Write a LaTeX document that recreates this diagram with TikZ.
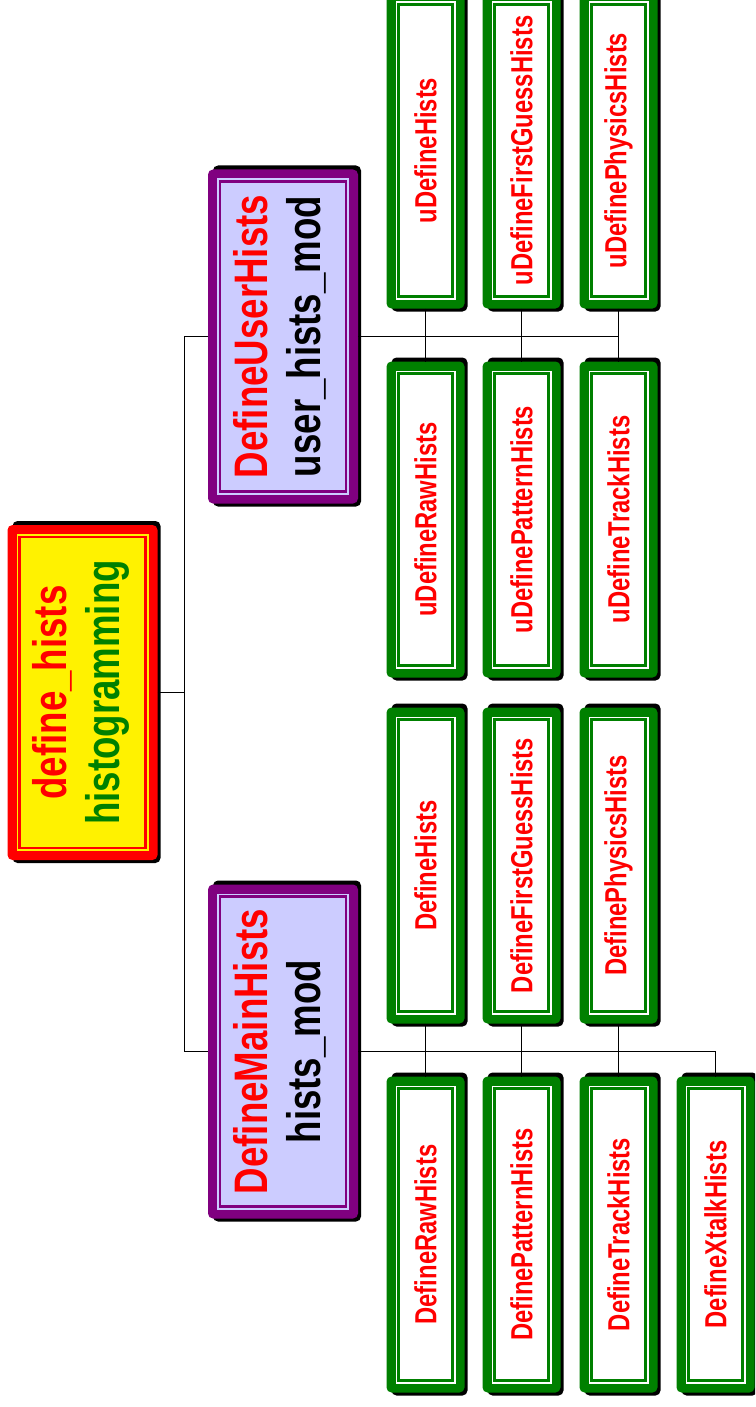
\documentclass[tikz,border=0pt]{standalone}
\usepackage{fontspec}
\usepackage{graphicx}
\newfontfamily\hv{Liberation Sans}[FakeStretch=0.78]

\definecolor{hgreen}{RGB}{0,128,0}
\definecolor{hpurple}{RGB}{128,0,128}
\definecolor{hlav}{RGB}{204,204,255}

\tikzset{
  wire/.style={draw=black, line width=1.4},
  dropshade/.style={fill=black, rounded corners=5},
  rootedge/.style={fill=red, rounded corners=5},
  rootface/.style={fill=yellow},
  rootrule/.style={draw=red, line width=2.5},
  modedge/.style={fill=hpurple, rounded corners=5},
  modface/.style={fill=hlav},
  modrule/.style={draw=hpurple, line width=2.5},
  leafedge/.style={fill=hgreen, rounded corners=5},
  leafface/.style={fill=white},
  leafrule/.style={draw=hgreen, line width=2.5},
  plate/.style={inner sep=0, outer sep=0},
}

% framed, shadowed box: name, x, y, width, height, scheme, label
\newcommand\plate[7]{%
  \fill[dropshade] ({#2-#4/2+5},{#3-#5/2-4}) rectangle ({#2+#4/2+3},{#3+#5/2+3});
  \fill[#6edge] ({#2-#4/2},{#3-#5/2}) rectangle ({#2+#4/2},{#3+#5/2});
  \fill[#6face] ({#2-#4/2+9},{#3-#5/2+9}) rectangle ({#2+#4/2-9},{#3+#5/2-9});
  \draw[#6rule] ({#2-#4/2+12},{#3-#5/2+12}) rectangle ({#2+#4/2-12},{#3+#5/2-12});
  \node[plate, minimum width=#4, minimum height=#5] (#1) at (#2,#3) {\rotatebox{90}{#7}};
}

\newcommand\bigtxt{\hv\bfseries\fontsize{47}{53}\selectfont}
\newcommand\leaftxt[1]{\hv\bfseries\fontsize{30.5}{36}\selectfont\textcolor{red}{#1}}
\newcommand\twolines[2]{\bigtxt\begin{tabular}{@{}c@{}}#1\\#2\end{tabular}}

\begin{document}
\begin{tikzpicture}[x=1pt, y=-1pt]
\path[use as bounding box] (0,0) rectangle (755,1407);
\clip (0,0) rectangle (755,1407);

% top of the tree
\plate{root}{82.5}{692.5}{150}{335}{root}{\twolines{\textcolor{red}{define\_hists}}{\textcolor{hgreen}{histogramming}}}
\plate{mainmod}{283}{1051.5}{150}{334}{mod}{\twolines{\textcolor{red}{DefineMainHists}}{\textcolor{black}{hists\_mod}}}
\plate{usermod}{283}{336.5}{150}{334}{mod}{\twolines{\textcolor{red}{DefineUserHists}}{\textcolor{black}{user\_hists\_mod}}}

% routines of hists_mod
\plate{dHists}{425.5}{865.5}{78}{316}{leaf}{\leaftxt{DefineHists}}
\plate{dFirst}{521.5}{865.5}{78}{316}{leaf}{\leaftxt{DefineFirstGuessHists}}
\plate{dPhys}{618.5}{865.5}{78}{316}{leaf}{\leaftxt{DefinePhysicsHists}}
\plate{dRaw}{425.5}{1234.5}{78}{316}{leaf}{\leaftxt{DefineRawHists}}
\plate{dPattern}{521.5}{1234.5}{78}{316}{leaf}{\leaftxt{DefinePatternHists}}
\plate{dTrack}{618.5}{1234.5}{78}{316}{leaf}{\leaftxt{DefineTrackHists}}
\plate{dXtalk}{715.5}{1234.5}{78}{316}{leaf}{\leaftxt{DefineXtalkHists}}

% routines of user_hists_mod
\plate{uHists}{425.5}{150.5}{78}{316}{leaf}{\leaftxt{uDefineHists}}
\plate{uFirst}{521.5}{150.5}{78}{316}{leaf}{\leaftxt{uDefineFirstGuessHists}}
\plate{uPhys}{618.5}{150.5}{78}{316}{leaf}{\leaftxt{uDefinePhysicsHists}}
\plate{uRaw}{425.5}{519.5}{78}{316}{leaf}{\leaftxt{uDefineRawHists}}
\plate{uPattern}{521.5}{519.5}{78}{316}{leaf}{\leaftxt{uDefinePatternHists}}
\plate{uTrack}{618.5}{519.5}{78}{316}{leaf}{\leaftxt{uDefineTrackHists}}

% connectors
\draw[wire] (root.east) -- ++(27,0) coordinate (fork);
\draw[wire] (usermod.west) -| (fork) |- (mainmod.west);

\draw[wire] (mainmod.east) -| (dXtalk.north);
\draw[wire] (dHists.south) -- (dRaw.north);
\draw[wire] (dFirst.south) -- (dPattern.north);
\draw[wire] (dPhys.south) -- (dTrack.north);

\draw[wire] (usermod.east) -- (usermod.east -| uTrack.north);
\draw[wire] (uHists.south) -- (uRaw.north);
\draw[wire] (uFirst.south) -- (uPattern.north);
\draw[wire] (uPhys.south) -- (uTrack.north);
\end{tikzpicture}
\end{document}
